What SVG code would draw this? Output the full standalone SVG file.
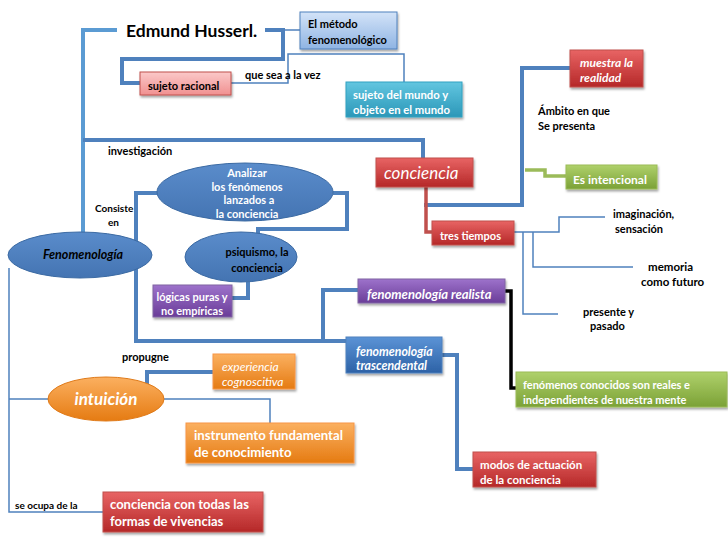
<svg xmlns="http://www.w3.org/2000/svg" width="728" height="546" viewBox="0 0 728 546">
<defs>
<linearGradient id="gRed" x1="0" y1="0" x2="0" y2="1"><stop offset="0" stop-color="#e86464"/><stop offset="1" stop-color="#b52828"/></linearGradient>
<linearGradient id="gPink" x1="0" y1="0" x2="0" y2="1"><stop offset="0" stop-color="#fbc9c9"/><stop offset="1" stop-color="#f09090"/></linearGradient>
<linearGradient id="gLBlue" x1="0" y1="0" x2="0" y2="1"><stop offset="0" stop-color="#d3e3f8"/><stop offset="1" stop-color="#8fb4e3"/></linearGradient>
<linearGradient id="gCyan" x1="0" y1="0" x2="0" y2="1"><stop offset="0" stop-color="#62c6e0"/><stop offset="1" stop-color="#2b97b8"/></linearGradient>
<linearGradient id="gGreen" x1="0" y1="0" x2="0" y2="1"><stop offset="0" stop-color="#afd16b"/><stop offset="1" stop-color="#7ba136"/></linearGradient>
<linearGradient id="gPurple" x1="0" y1="0" x2="0" y2="1"><stop offset="0" stop-color="#9d72cb"/><stop offset="1" stop-color="#6a3d98"/></linearGradient>
<linearGradient id="gBlue" x1="0" y1="0" x2="0" y2="1"><stop offset="0" stop-color="#5b93d6"/><stop offset="1" stop-color="#2d62a6"/></linearGradient>
<linearGradient id="gOrange" x1="0" y1="0" x2="0" y2="1"><stop offset="0" stop-color="#fbb060"/><stop offset="1" stop-color="#e57b12"/></linearGradient>
<linearGradient id="gEll" x1="0" y1="0" x2="0" y2="1"><stop offset="0" stop-color="#5a8ccb"/><stop offset="1" stop-color="#4474b2"/></linearGradient>
<filter id="sh" x="-10%" y="-10%" width="130%" height="140%"><feDropShadow dx="1" dy="2" stdDeviation="1.2" flood-color="#000" flood-opacity="0.35"/></filter>
</defs>
<style>
text{font-family:Lato,"Liberation Sans",sans-serif;font-weight:bold;fill:#000}
.w{fill:#fff}
.it{font-style:italic}
.s11{font-size:11px}
.s10{font-size:10px}
.m{font-size:11.5px}
.l{font-size:12px}
.s13{font-size:13px}
.box{filter:url(#sh);stroke-width:1}
.thick{fill:none;stroke:#4f81bd;stroke-width:4;stroke-linejoin:miter}
.thin{fill:none;stroke:#4f81bd;stroke-width:1.5}
</style>
<rect width="728" height="546" fill="#fff"/>

<g id="connectors">
<path class="thick" d="M117 30 H83 V233" style="stroke:#5b9bd3"/>
<path class="thick" d="M265 30 H283 V59 H122 V83 H140"/>
<path class="thin" d="M283 30 H300"/>
<path class="thin" d="M231 83 H288 V54 H404 V82"/>
<path class="thick" d="M83 140 H423 V158"/>
<path class="thick" d="M424 205 H522 V68 H570"/>
<path fill="none" stroke="#c0504d" stroke-width="3.5" d="M426 187 V232 H433"/>
<path fill="none" stroke="#9bbb59" stroke-width="3.5" d="M525 170 H545 V176 H566"/>
<path class="thin" d="M514 232 H559 V217 H605 M533 232 V267 H633 M523 232 V314 H558"/>
<path class="thick" d="M158 193 H136 V341 H346 M323 341 V290 H358"/>
<path class="thick" d="M333 193 H347 V229 H258 V236"/>
<path class="thick" d="M248 282 V298 H232"/>
<path fill="none" stroke="#000" stroke-width="3.5" d="M505 291 H511 V388 H516"/>
<path class="thick" d="M442 355 H457 V469 H473"/>
<path class="thin" d="M9 268 V512 H103 M9 399 H49"/>
<path class="thick" d="M147 386 V372 H213"/>
<path class="thin" d="M164 399 H270 V423"/>
</g>

<g id="edmund"><text x="126" y="37" style="font-size:17.5px">Edmund Husserl.</text></g>

<g id="metodo">
<rect class="box" x="300" y="12" width="97" height="37" fill="url(#gLBlue)" stroke="#4f81bd"/>
<text class="s11" x="308" y="28">El método</text>
<text class="s11" x="308" y="44">fenomenológico</text>
</g>

<g id="sujeto-racional">
<rect class="box" x="140" y="72" width="91" height="23" fill="url(#gPink)" stroke="#c0504d"/>
<text class="s11" x="148" y="90">sujeto racional</text>
</g>
<text class="s11" x="245" y="79">que sea a la vez</text>

<g id="sujeto-mundo">
<rect class="box" x="346" y="82" width="116" height="35" fill="url(#gCyan)" stroke="#31a2c1"/>
<text class="w" x="353" y="99" style="font-size:11.3px">sujeto del mundo y</text>
<text class="w" x="353" y="114" style="font-size:11.3px">objeto en el mundo</text>
</g>

<text class="s11" x="108" y="155">investigación</text>

<g id="conciencia">
<rect class="box" x="376" y="158" width="97" height="29" fill="url(#gRed)" stroke="#c0504d"/>
<text class="w it" x="384" y="179" style="font-size:17px;font-weight:normal">conciencia</text>
</g>

<g id="muestra">
<rect class="box" x="570" y="50" width="73" height="37" fill="url(#gRed)" stroke="#c0504d"/>
<text class="l w it" x="580" y="67">muestra la</text>
<text class="l w it" x="580" y="82">realidad</text>
</g>

<text class="s11" x="538" y="115">Ámbito en que</text>
<text class="s11" x="538" y="130">Se presenta</text>

<g id="intencional">
<rect class="box" x="566" y="165" width="91" height="24" fill="url(#gGreen)" stroke="#9bbb59"/>
<text class="l w" x="573" y="184">Es intencional</text>
</g>

<g id="tres">
<rect class="box" x="432" y="221" width="82" height="24" fill="url(#gRed)" stroke="#c0504d"/>
<text class="s11 w" x="440" y="240">tres tiempos</text>
</g>

<text class="s11" x="613" y="218">imaginación,</text>
<text class="s11" x="615" y="233">sensación</text>
<text class="m" x="648" y="271">memoria</text>
<text class="m" x="641" y="286">como futuro</text>
<text class="s11" x="583" y="316">presente y</text>
<text class="s11" x="590" y="330">pasado</text>

<g id="fenomenologia">
<ellipse cx="80" cy="255" rx="72" ry="23" fill="url(#gEll)" stroke="#3b6aa3"/>
<text class="it" x="83" y="259" text-anchor="middle" style="font-size:12.5px">Fenomenología</text>
</g>

<text class="s10" x="95" y="212">Consiste</text>
<text class="s10" x="108" y="226">en</text>

<g id="analizar">
<ellipse cx="245" cy="192" rx="88" ry="29" fill="url(#gEll)" stroke="#3b6aa3"/>
<text class="s11 w" x="247" y="177" text-anchor="middle">Analizar</text>
<text class="s11 w" x="247" y="190.5" text-anchor="middle">los fenómenos</text>
<text class="s11 w" x="249" y="204" text-anchor="middle">lanzados a</text>
<text class="s11 w" x="247" y="217.5" text-anchor="middle">la conciencia</text>
</g>

<g id="psiquismo">
<ellipse cx="241" cy="257" rx="56" ry="25" fill="url(#gEll)" stroke="#3b6aa3"/>
<text class="s11" x="257" y="256" text-anchor="middle">psiquismo, la</text>
<text class="s11" x="257" y="272" text-anchor="middle">conciencia</text>
</g>

<g id="logicas">
<rect class="box" x="153" y="285" width="79" height="32" fill="url(#gPurple)" stroke="#8064a2"/>
<text class="s11 w" x="192" y="301" text-anchor="middle">lógicas puras y</text>
<text class="s11 w" x="192" y="315" text-anchor="middle">no empíricas</text>
</g>

<g id="realista">
<rect class="box" x="358" y="279" width="147" height="24" fill="url(#gPurple)" stroke="#8064a2"/>
<text class="s13 w it" x="367" y="299">fenomenología realista</text>
</g>

<g id="reales">
<rect class="box" x="516" y="372" width="211" height="35" fill="url(#gGreen)" stroke="#9bbb59"/>
<text class="s11 w" x="523" y="389">fenómenos conocidos son reales e</text>
<text class="s11 w" x="523" y="404">independientes de nuestra mente</text>
</g>

<g id="trascendental">
<rect class="box" x="346" y="337" width="96" height="36" fill="url(#gBlue)" stroke="#4f81bd"/>
<text class="w it" x="356" y="356" style="font-size:12.3px">fenomenología</text>
<text class="w it" x="356" y="370" style="font-size:12.3px">trascendental</text>
</g>

<g id="modos">
<rect class="box" x="473" y="452" width="123" height="35" fill="url(#gRed)" stroke="#c0504d"/>
<text class="m w" x="480" y="469">modos de actuación</text>
<text class="m w" x="480" y="484">de la conciencia</text>
</g>

<text class="s11" x="122" y="361">propugne</text>

<g id="intuicion">
<ellipse cx="106" cy="399" rx="58" ry="22" fill="url(#gOrange)" stroke="#e07a18"/>
<text class="w it" x="106" y="405" text-anchor="middle" style="font-size:17px">intuición</text>
</g>

<g id="experiencia">
<rect class="box" x="213" y="354" width="82" height="35" fill="url(#gOrange)" stroke="#f79646"/>
<text class="l w it" x="222" y="371" style="font-weight:normal">experiencia</text>
<text class="l w it" x="222" y="386" style="font-weight:normal">cognoscitiva</text>
</g>

<g id="instrumento">
<rect class="box" x="186" y="423" width="168" height="40" fill="url(#gOrange)" stroke="#f79646"/>
<text class="w" x="194" y="440" style="font-size:13.2px">instrumento fundamental</text>
<text class="w" x="194" y="457" style="font-size:13.2px"> de conocimiento</text>
</g>

<text class="s10" x="15" y="509">se ocupa de la</text>

<g id="todas">
<rect class="box" x="103" y="492" width="160" height="40" fill="url(#gRed)" stroke="#c0504d"/>
<text class="s13 w" x="110" y="509">conciencia con todas las</text>
<text class="s13 w" x="110" y="526">formas de vivencias</text>
</g>
</svg>
